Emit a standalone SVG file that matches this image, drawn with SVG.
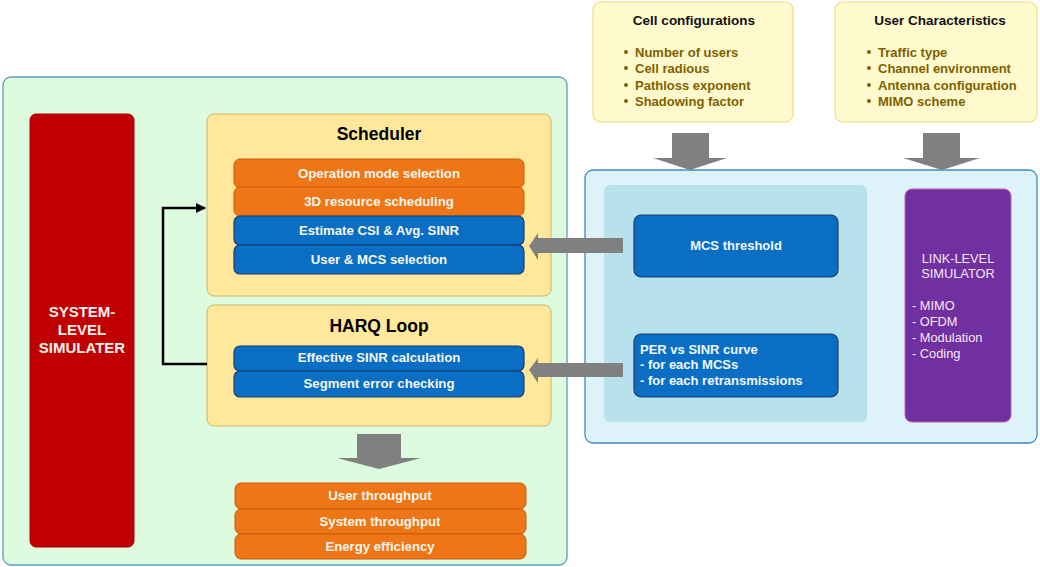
<svg xmlns="http://www.w3.org/2000/svg" width="1040" height="567" viewBox="0 0 1040 567">
<defs>
<style>
text{font-family:"Liberation Sans",Arial,sans-serif}
.panel{fill:#ddfbde;stroke:#5e9cc2;stroke-width:1.3}
.ybox{fill:#ffe89c;stroke:#cfb263;stroke-width:1}
.cream{fill:#fffacd;stroke:#f2dc80;stroke-width:1.2}
.org{fill:#ef7616;stroke:#c85c0c;stroke-width:1}
.blu{fill:#0a6fc4;stroke:#1a3d6b;stroke-width:1.2}
.bt{font-size:13.2px;font-weight:bold;fill:#f6f6ee;text-anchor:middle}
.ttl{font-size:17.5px;font-weight:bold;fill:#000;text-anchor:middle}
.hd{font-size:13.5px;font-weight:bold;fill:#111;text-anchor:middle}
.li{font-size:13px;font-weight:bold;fill:#7f6000}
.gray{fill:#808080}
.wt{font-size:13px;font-weight:bold;fill:#f2f8ff}
.pt{font-size:12.8px;fill:#f6e6f6}
</style>
<marker id="ah" markerWidth="10" markerHeight="10" refX="9" refY="5" orient="auto" markerUnits="userSpaceOnUse">
<path d="M0,0 L10,5 L0,10 z" fill="#000"/>
</marker>
</defs>
<rect width="1040" height="567" fill="#fff"/>

<g id="system-panel">
<rect class="panel" x="3" y="77" width="564" height="488" rx="8"/>
</g>

<g id="system-level-simulator">
<rect x="30" y="114" width="104" height="433" rx="6" fill="#c00000" stroke="#a80000"/>
<text x="82" y="317" font-size="15" font-weight="bold" fill="#fff0f0" text-anchor="middle">SYSTEM-</text>
<text x="82" y="335" font-size="15" font-weight="bold" fill="#fff0f0" text-anchor="middle">LEVEL</text>
<text x="82" y="353" font-size="15" font-weight="bold" fill="#fff0f0" text-anchor="middle">SIMULATER</text>
</g>

<g id="scheduler">
<rect class="ybox" x="207" y="114" width="344" height="182" rx="7"/>
<text class="ttl" x="379" y="140">Scheduler</text>
<rect class="org" x="234" y="159" width="290" height="29" rx="6"/>
<text class="bt" x="379" y="178">Operation mode selection</text>
<rect class="org" x="234" y="187" width="290" height="29" rx="6"/>
<text class="bt" x="379" y="206">3D resource scheduling</text>
<rect class="blu" x="234" y="216" width="290" height="29" rx="6"/>
<text class="bt" x="379" y="235">Estimate CSI &amp; Avg. SINR</text>
<rect class="blu" x="234" y="245" width="290" height="29" rx="6"/>
<text class="bt" x="379" y="264">User &amp; MCS selection</text>
</g>

<g id="harq-loop">
<rect class="ybox" x="207" y="305" width="344" height="121" rx="7"/>
<text class="ttl" x="379" y="332">HARQ Loop</text>
<rect class="blu" x="234" y="346" width="290" height="25" rx="6"/>
<text class="bt" x="379" y="362">Effective SINR calculation</text>
<rect class="blu" x="234" y="371" width="290" height="26" rx="6"/>
<text class="bt" x="379" y="388">Segment error checking</text>
</g>

<g id="outputs">
<rect class="org" x="235" y="483" width="291" height="26" rx="6"/>
<text class="bt" x="380" y="500">User throughput</text>
<rect class="org" x="235" y="509" width="291" height="25" rx="6"/>
<text class="bt" x="380" y="526">System throughput</text>
<rect class="org" x="235" y="534" width="291" height="25" rx="6"/>
<text class="bt" x="380" y="551">Energy efficiency</text>
</g>

<g id="cell-configurations">
<rect class="cream" x="593" y="2" width="200" height="120" rx="8"/>
<text class="hd" x="694" y="25">Cell configurations</text>
<g fill="#7f6000">
<circle cx="626" cy="52" r="2"/><circle cx="626" cy="68" r="2"/><circle cx="626" cy="85" r="2"/><circle cx="626" cy="101" r="2"/>
</g>
<text class="li" x="635" y="57">Number of users</text>
<text class="li" x="635" y="73">Cell radious</text>
<text class="li" x="635" y="90">Pathloss exponent</text>
<text class="li" x="635" y="106">Shadowing factor</text>
</g>

<g id="user-characteristics">
<rect class="cream" x="835" y="2" width="202" height="120" rx="8"/>
<text class="hd" x="940" y="25">User Characteristics</text>
<g fill="#7f6000">
<circle cx="869" cy="52" r="2"/><circle cx="869" cy="68" r="2"/><circle cx="869" cy="85" r="2"/><circle cx="869" cy="101" r="2"/>
</g>
<text class="li" x="878" y="57">Traffic type</text>
<text class="li" x="878" y="73">Channel environment</text>
<text class="li" x="878" y="90">Antenna configuration</text>
<text class="li" x="878" y="106">MIMO scheme</text>
</g>

<g id="link-level-panel">
<rect x="585" y="170" width="452" height="273" rx="8" fill="#def2f9" stroke="#3c8cc0" stroke-width="1.3"/>
<rect x="604" y="185" width="263" height="237" rx="6" fill="#b8e2eb"/>
</g>

<g id="mcs-threshold">
<rect class="blu" x="634" y="215" width="204" height="62" rx="7"/>
<text class="wt" x="736" y="250" text-anchor="middle">MCS threshold</text>
</g>

<g id="per-curve">
<rect class="blu" x="634" y="334" width="204" height="63" rx="7"/>
<text class="wt" x="640" y="354">PER vs SINR curve</text>
<text class="wt" x="640" y="369">- for each MCSs</text>
<text class="wt" x="640" y="385">- for each retransmissions</text>
</g>

<g id="link-level-simulator">
<rect x="905" y="189" width="106" height="233" rx="7" fill="#7030a0" stroke="#c060b0" stroke-width="1"/>
<text class="pt" x="958" y="263" text-anchor="middle">LINK-LEVEL</text>
<text class="pt" x="958" y="278" text-anchor="middle">SIMULATOR</text>
<text class="pt" x="912" y="310">- MIMO</text>
<text class="pt" x="912" y="326">- OFDM</text>
<text class="pt" x="912" y="342">- Modulation</text>
<text class="pt" x="912" y="358">- Coding</text>
</g>

<g id="connectors">
<polyline points="207,364 163,364 163,208 205,208" fill="none" stroke="#000" stroke-width="2.5" marker-end="url(#ah)"/>
<path class="gray" d="M672,133 H709 V158 H727 L690,170 L653,158 H672 Z"/>
<path class="gray" d="M923,133 H960 V158 H980 L942,170 L903,158 H923 Z"/>
<path class="gray" d="M623,238 V253 H538 L538,260 L529,246 L538,233 V238 Z"/>
<path class="gray" d="M623,363 V377 H538 L538,383 L529,370 L538,358 V363 Z"/>
<path class="gray" d="M357,434 H401 V458 H421 L379,469 L337,458 H357 Z"/>
</g>
</svg>
